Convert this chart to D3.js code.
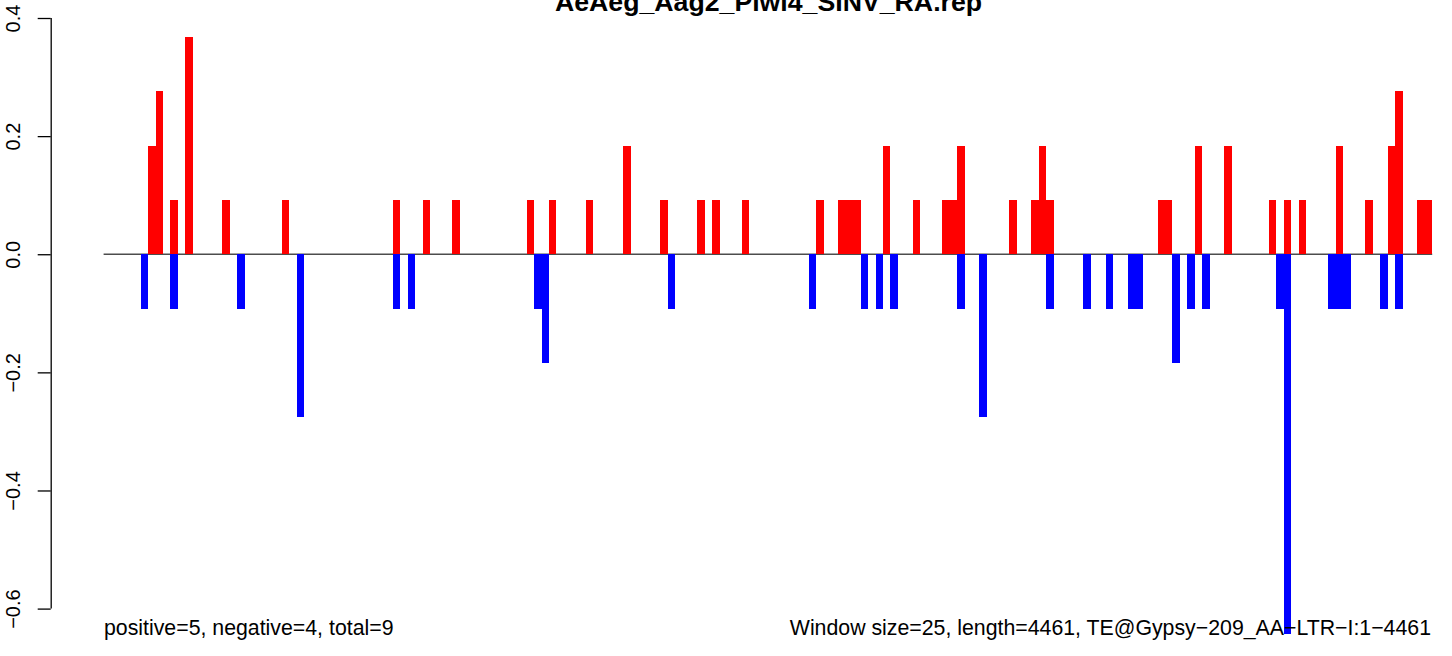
<!DOCTYPE html>
<html>
<head>
<meta charset="utf-8">
<script src="https://cdn.jsdelivr.net/npm/d3@7"></script>
<style>
  html, body { margin: 0; padding: 0; background: #fff; }
  svg { display: block; }
  text { font-family: "Liberation Sans", Arial, Helvetica, sans-serif; fill: #000; }
</style>
</head>
<body>
<svg id="chart" width="1452" height="656"></svg>
<script>
// ---- data ----
const title = "AeAeg_Aag2_Piwi4_SINV_RA.rep";
const windowSize = 25;
const seqLength = 4461;
const nWindows = 179;
// window start positions (bp) and normalized values, positive strand
const posStarts = [150, 175, 225, 275, 400, 600, 975, 1075, 1175, 1425, 1500, 1625, 1750, 1875,
  2000, 2050, 2150, 2400, 2475, 2500, 2525, 2625, 2725, 2825, 2850, 2875, 3050, 3125, 3150, 3175,
  3550, 3575, 3675, 3775, 3925, 3975, 4025, 4150, 4250, 4325, 4350, 4425, 4450];
const posValues = [0.1838, 0.2757, 0.0919, 0.3676, 0.0919, 0.0919, 0.0919, 0.0919, 0.0919, 0.0919,
  0.0919, 0.0919, 0.1838, 0.0919, 0.0919, 0.0919, 0.0919, 0.0919, 0.0919, 0.0919, 0.0919, 0.1838,
  0.0919, 0.0919, 0.0919, 0.1838, 0.0919, 0.0919, 0.1838, 0.0919, 0.0919, 0.0919, 0.1838, 0.1838,
  0.0919, 0.0919, 0.0919, 0.1838, 0.0919, 0.1838, 0.2757, 0.0919, 0.0919];
// negative strand
const negStarts = [125, 225, 450, 650, 975, 1025, 1450, 1475, 1900, 2375, 2550, 2600, 2650, 2875,
  2950, 3175, 3300, 3375, 3450, 3475, 3600, 3650, 3700, 3950, 3975, 4125, 4150, 4175, 4300, 4350];
const negValues = [-0.0919, -0.0919, -0.0919, -0.2757, -0.0919, -0.0919, -0.0919, -0.1838, -0.0919,
  -0.0919, -0.0919, -0.0919, -0.0919, -0.0919, -0.2757, -0.0919, -0.0919, -0.0919, -0.0919, -0.0919,
  -0.1838, -0.0919, -0.0919, -0.0919, -0.6433, -0.0919, -0.0919, -0.0919, -0.0919, -0.0919];
const yTicks = [-0.6, -0.4, -0.2, 0.0, 0.2, 0.4];
const leftNote = "positive=5, negative=4, total=9";
const rightNote = "Window size=25, length=4461, TE@Gypsy\u2212209_AA\u2212LTR\u2212I:1\u22124461";

// ---- scales ----
const svg = d3.select("#chart");
const x = d3.scaleLinear().domain([0, nWindows * windowSize]).range([103.6, 1432.2]);
const y = d3.scaleLinear().domain([-0.6, 0.4]).range([608.6, 18]);

// baseline
svg.append("line")
  .attr("x1", x(0)).attr("x2", x(nWindows * windowSize))
  .attr("y1", y(0)).attr("y2", y(0))
  .attr("stroke", "#4d4d4d").attr("stroke-width", 1.3);

const pos = posStarts.map((s, i) => ({ s, v: posValues[i] }));
const neg = negStarts.map((s, i) => ({ s, v: negValues[i] }));

svg.append("g").selectAll("rect").data(pos).join("rect")
  .attr("x", d => x(d.s))
  .attr("width", d => x(d.s + windowSize) - x(d.s))
  .attr("y", d => y(d.v))
  .attr("height", d => y(0) - y(d.v))
  .attr("fill", "#ff0000")
  .attr("shape-rendering", "crispEdges");

svg.append("g").selectAll("rect").data(neg).join("rect")
  .attr("x", d => x(d.s))
  .attr("width", d => x(d.s + windowSize) - x(d.s))
  .attr("y", y(0))
  .attr("height", d => y(d.v) - y(0))
  .attr("fill", "#0000ff")
  .attr("shape-rendering", "crispEdges");

// y axis
const fmt = v => (v < 0 ? "\u2212" : "") + Math.abs(v).toFixed(1);
const yAxis = d3.axisLeft(y).tickValues(yTicks).tickSize(13).tickFormat(fmt);
const ag = svg.append("g").attr("transform", "translate(50.7,0)").call(yAxis);
ag.select(".domain").attr("stroke", "#000").attr("stroke-width", 1.3)
  .attr("d", `M0.5,${y(0.4)}V${y(-0.6)}`);
ag.selectAll(".tick line").attr("stroke", "#000").attr("stroke-width", 1.3);
ag.selectAll(".tick text")
  .attr("font-size", 20)
  .attr("font-family", "Liberation Sans, Arial, sans-serif")
  .attr("fill", "#000")
  .attr("text-anchor", "middle")
  .attr("x", null).attr("dy", null)
  .attr("transform", "translate(-30.5,0) rotate(-90)");

// title (partly above the top edge, as in the reference)
svg.append("text")
  .attr("x", 768.5).attr("y", 11)
  .attr("text-anchor", "middle")
  .attr("font-size", 26.7).attr("font-weight", "bold")
  .text(title);

// bottom notes
svg.append("text")
  .attr("x", 104).attr("y", 635)
  .attr("font-size", 21.3)
  .text(leftNote);
svg.append("text")
  .attr("x", 1431).attr("y", 635)
  .attr("text-anchor", "end")
  .attr("font-size", 21.3)
  .text(rightNote);
</script>
</body>
</html>
